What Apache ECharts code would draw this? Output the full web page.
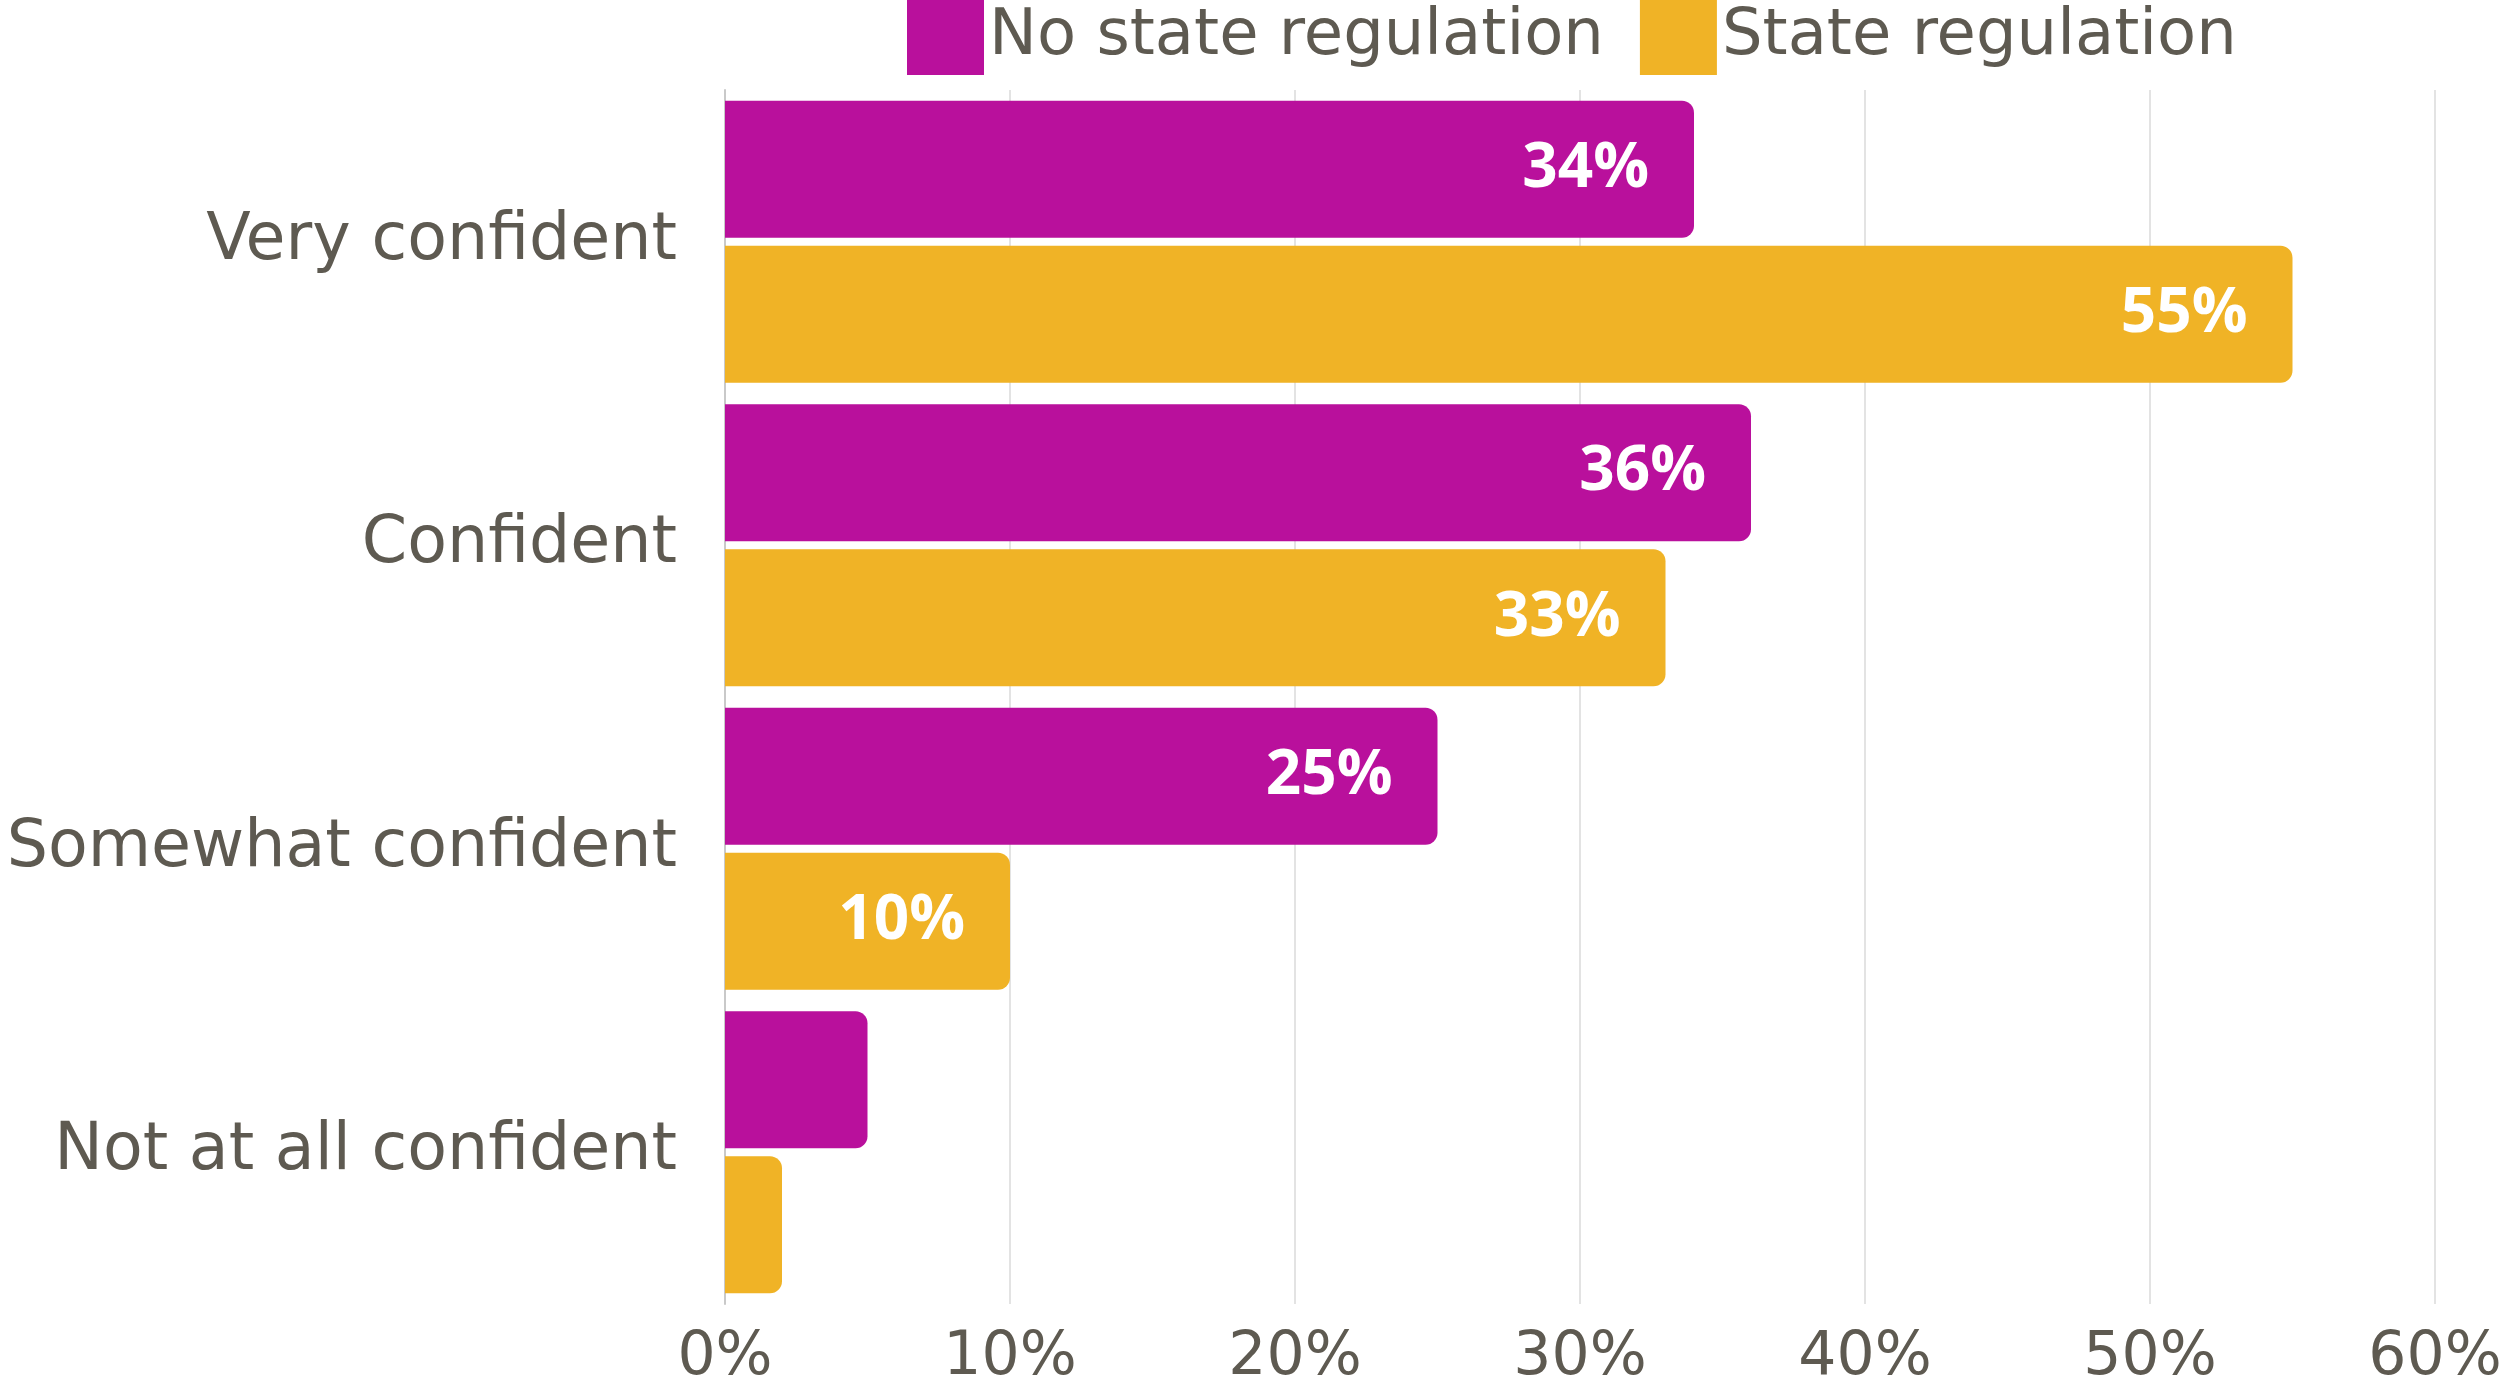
<!DOCTYPE html>
<html>
<head>
<meta charset="utf-8">
<script src="https://cdn.jsdelivr.net/npm/echarts@6/dist/echarts.min.js"></script>
<style>
  html, body { margin: 0; padding: 0; background: #fff; }
  #chart { width: 2505px; height: 1388px; }
</style>
</head>
<body>
<div id="chart"></div>
<script>
const categories = ['Very confident', 'Confident', 'Somewhat confident', 'Not at all confident'];
const noStateRegulation = [34, 36, 25, 5];
const stateRegulation = [55, 33, 10, 2];
const seriesNames = ['No state regulation', 'State regulation'];
const xTicks = [0, 10, 20, 30, 40, 50, 60];

const textColor = '#5e5a51';
const textFont = '"DejaVu Sans", "Open Sans", sans-serif';
const labelFont = '"Open Sans", "Noto Sans", sans-serif';

const chart = echarts.init(document.getElementById('chart'));

// small bars get no label, as in the original
function barLabel() {
  return {
    show: true,
    position: 'insideRight',
    distance: 45,
    color: '#fff',
    fontFamily: labelFont,
    fontWeight: 'bold',
    fontSize: 62,
    formatter: (p) => (p.value >= 8 ? `${p.value}%` : ''),
  };
}

const option = {
  animation: false,
  textStyle: { fontFamily: textFont },
  legend: {
    data: seriesNames,
    left: 907,
    top: 0,
    padding: 0,
    itemWidth: 77,
    itemHeight: 75,
    itemGap: 36,
    icon: 'rect',
    textStyle: { color: textColor, fontSize: 64, fontFamily: textFont, padding: [0, 0, 20, 0] },
  },
  grid: {
    left: 725,
    right: 70,
    top: 90,
    bottom: 83,
    containLabel: false,
  },
  xAxis: {
    type: 'value',
    min: xTicks[0],
    max: xTicks[xTicks.length - 1],
    interval: 10,
    axisLine: { show: false },
    axisTick: { show: false },
    splitLine: { show: true, lineStyle: { color: '#e3e3e3', width: 2 } },
    axisLabel: {
      color: textColor,
      fontSize: 60,
      margin: 24,
      formatter: '{value}%',
    },
  },
  yAxis: {
    type: 'category',
    data: categories,
    inverse: true,
    axisLine: { show: true, lineStyle: { color: '#c9c9c9', width: 2 } },
    axisTick: { show: false },
    axisLabel: {
      color: textColor,
      fontSize: 65,
      margin: 48,
    },
  },
  series: [
    {
      name: seriesNames[0],
      type: 'bar',
      data: noStateRegulation,
      barWidth: 137,
      barGap: '6%',
      itemStyle: { color: '#b9109c', borderRadius: [0, 12, 12, 0] },
      label: barLabel(),
    },
    {
      name: seriesNames[1],
      type: 'bar',
      data: stateRegulation,
      barWidth: 137,
      itemStyle: { color: '#f0b326', borderRadius: [0, 12, 12, 0] },
      label: barLabel(),
    },
  ],
};

chart.setOption(option);
</script>
</body>
</html>
